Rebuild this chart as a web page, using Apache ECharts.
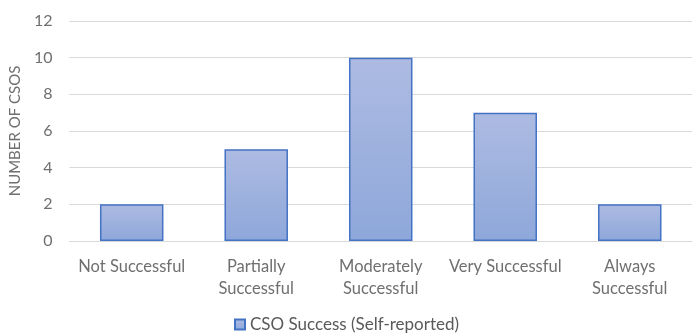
<!DOCTYPE html>
<html><head><meta charset="utf-8">
<script src="https://cdn.jsdelivr.net/npm/echarts@6/dist/echarts.min.js"></script>
<style>html,body{margin:0;padding:0;background:#fff}#c{width:693px;height:335px}</style>
</head><body><div id="c"></div>
<script>
const categories = ["Not Successful", "Partially\nSuccessful", "Moderately\nSuccessful", "Very Successful", "Always\nSuccessful"];
const values = [2, 5, 10, 7, 2];
const seriesName = "CSO Success (Self-reported)";
const yAxisTitle = "NUMBER OF CSOS";

const font = "Lato, sans-serif";
const txt = '#6f6f6f';
const chart = echarts.init(document.getElementById('c'));
const grad = new echarts.graphic.LinearGradient(0, 0, 0, 1, [
  {offset: 0, color: '#adbbe2'}, {offset: 1, color: '#8ea7da'}
]);
chart.setOption({
  animation: false,
  grid: {left: 67, right: 1, top: 21, bottom: 94},
  legend: {
    bottom: -3, left: 'center', itemWidth: 10, itemHeight: 10, itemGap: 3,
    textStyle: {color: '#595959', fontSize: 17, fontFamily: font},
    data: [{name: seriesName, icon: 'rect'}]
  },
  xAxis: {
    type: 'category', data: categories,
    axisLine: {lineStyle: {color: '#d9d9d9', width: 1}},
    axisTick: {show: false},
    axisLabel: {color: txt, fontSize: 16.5, fontFamily: font, margin: 15, lineHeight: 22, interval: 0}
  },
  yAxis: {
    type: 'value', min: 0, max: 12, interval: 2,
    name: yAxisTitle, nameLocation: 'middle', nameGap: 45, nameRotate: 90,
    nameTextStyle: {color: txt, fontSize: 15, fontFamily: font},
    axisLine: {show: false}, axisTick: {show: false},
    axisLabel: {color: txt, fontSize: 16, fontFamily: font, margin: 17},
    splitLine: {lineStyle: {color: '#d9d9d9', width: 1}}
  },
  series: [{
    name: seriesName, type: 'bar', data: values, barWidth: '51%',
    itemStyle: {color: grad, borderColor: '#4472c4', borderWidth: 1.5}
  }]
});
</script></body></html>
